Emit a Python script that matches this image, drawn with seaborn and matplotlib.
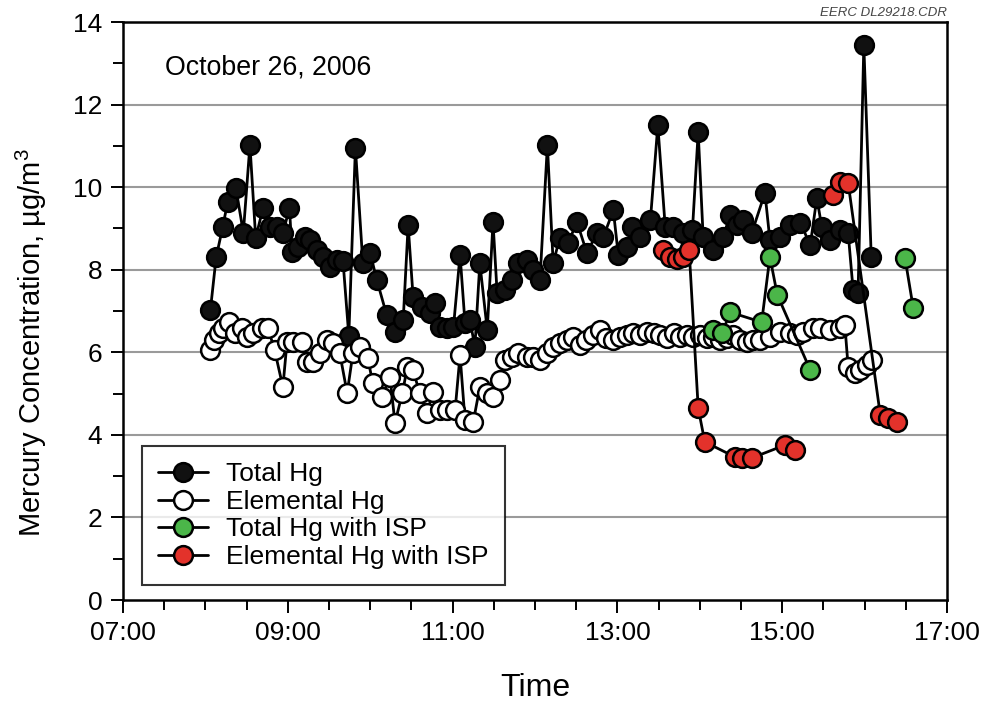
import numpy as np
import pandas as pd
import matplotlib
matplotlib.use('Agg')
import matplotlib.pyplot as plt
from matplotlib.ticker import FuncFormatter, MultipleLocator, FixedLocator
import seaborn as sns

# time in decimal hours, concentrations in ug/m3
total_t = [8.06, 8.13, 8.21, 8.27, 8.37, 8.46, 8.54, 8.61, 8.70, 8.78, 8.87, 8.94, 9.02, 9.05,
           9.12, 9.21, 9.27, 9.35, 9.43, 9.51, 9.60, 9.67, 9.74, 9.82, 9.91, 10.00, 10.08, 10.20,
           10.30, 10.40, 10.46, 10.52, 10.63, 10.73, 10.79, 10.85, 10.93, 11.01, 11.09, 11.15,
           11.21, 11.27, 11.33, 11.42, 11.49, 11.54, 11.64, 11.72, 11.79, 11.90, 11.98, 12.06,
           12.15, 12.22, 12.30, 12.40, 12.51, 12.63, 12.75, 12.83, 12.95, 13.01, 13.12, 13.18,
           13.27, 13.40, 13.49, 13.58, 13.68, 13.80, 13.91, 13.98, 14.04, 14.16, 14.28, 14.37,
           14.45, 14.52, 14.63, 14.79, 14.85, 14.97, 15.10, 15.22, 15.34, 15.42, 15.48, 15.58,
           15.70, 15.80, 15.86, 15.92, 15.99, 16.08]
total_hg = [7.02, 8.30, 9.04, 9.64, 9.97, 8.90, 11.02, 8.77, 9.50, 9.04, 9.04, 8.88, 9.50, 8.43,
            8.55, 8.80, 8.72, 8.48, 8.31, 8.07, 8.23, 8.20, 6.40, 10.95, 8.17, 8.40, 7.75, 6.90,
            6.50, 6.78, 9.08, 7.34, 7.10, 6.95, 7.19, 6.61, 6.59, 6.61, 8.36, 6.71,
            6.78, 6.13, 8.16, 6.54, 9.15, 7.43, 7.51, 7.75, 8.16, 8.23, 7.99, 7.75,
            11.02, 8.16, 8.77, 8.65, 9.15, 8.40, 8.89, 8.80, 9.44, 8.36, 8.55, 9.03,
            8.80, 9.20, 11.50, 9.03, 9.03, 8.89, 8.96, 11.33, 8.80, 8.48, 8.80, 9.32,
            9.08, 9.20, 8.89, 9.86, 8.72, 8.80, 9.08, 9.13, 8.60, 9.74, 9.03, 8.72,
            8.96, 8.89, 7.51, 7.43, 13.44, 8.31]

elem_t = [8.06, 8.10, 8.17, 8.21, 8.29, 8.36, 8.44, 8.50, 8.58, 8.69, 8.76, 8.84, 8.94, 8.99,
          9.06, 9.17, 9.23, 9.31, 9.39, 9.48, 9.55, 9.63, 9.72, 9.79, 9.88, 9.97, 10.03, 10.14,
          10.24, 10.30, 10.39, 10.45, 10.52, 10.60, 10.69, 10.76, 10.85, 10.93, 11.03, 11.09,
          11.15, 11.25, 11.33, 11.42, 11.49, 11.58, 11.64, 11.72, 11.79, 11.90, 11.98, 12.06,
          12.15, 12.22, 12.30, 12.39, 12.46, 12.55, 12.62, 12.70, 12.79, 12.86, 12.95, 13.03,
          13.12, 13.19, 13.27, 13.36, 13.44, 13.52, 13.60, 13.69, 13.76, 13.84, 13.92, 14.00,
          14.09, 14.16, 14.25, 14.33, 14.40, 14.49, 14.57, 14.65, 14.73, 14.85, 14.97, 15.09,
          15.18, 15.25, 15.37, 15.46, 15.58, 15.70, 15.76, 15.80, 15.88, 15.94, 16.03, 16.09]
elem_hg = [6.05, 6.30, 6.47, 6.60, 6.73, 6.47, 6.60, 6.37, 6.47, 6.60, 6.58, 6.05, 5.16, 6.25,
           6.25, 6.25, 5.76, 5.76, 5.98, 6.30, 6.22, 5.98, 5.01, 5.98, 6.13, 5.86, 5.26, 4.92,
           5.40, 4.29, 5.01, 5.64, 5.57, 5.01, 4.53, 5.04, 4.60, 4.60, 4.60, 5.93,
           4.36, 4.31, 5.16, 5.01, 4.92, 5.33, 5.81, 5.88, 5.98, 5.88, 5.88, 5.81,
           5.98, 6.13, 6.22, 6.30, 6.37, 6.18, 6.30, 6.42, 6.54, 6.35, 6.30, 6.37,
           6.42, 6.47, 6.42, 6.49, 6.47, 6.42, 6.35, 6.47, 6.37, 6.42, 6.37, 6.42,
           6.35, 6.37, 6.30, 6.35, 6.42, 6.30, 6.25, 6.30, 6.30, 6.37, 6.49, 6.47,
           6.42, 6.49, 6.60, 6.58, 6.54, 6.58, 6.65, 5.64, 5.50, 5.57, 5.69, 5.81]

isp_total_t = [14.16, 14.27, 14.37, 14.75, 14.85, 14.94, 15.34, 16.49, 16.59]
isp_total_hg = [6.54, 6.47, 6.97, 6.73, 8.31, 7.39, 5.57, 8.28, 7.07]
isp_total_seg = [0, 0, 0, 0, 0, 0, 0, 1, 1]

isp_elem_t = [13.55, 13.64, 13.72, 13.80, 13.87, 13.98, 14.06, 14.43, 14.51, 14.63, 15.03, 15.16,
              15.62, 15.70, 15.80, 16.19, 16.28, 16.39]
isp_elem_hg = [8.48, 8.31, 8.26, 8.31, 8.48, 4.65, 3.83, 3.46, 3.44, 3.44, 3.75, 3.63,
               9.81, 10.12, 10.10, 4.48, 4.41, 4.31]
isp_elem_seg = [0, 0, 0, 0, 0, 0, 0, 0, 0, 0, 0, 0, 1, 1, 1, 1, 1, 1]

labels = ['Total Hg', 'Elemental Hg', 'Total Hg with ISP', 'Elemental Hg with ISP']
fills = ['#111111', 'white', '#4bb649', '#e3322b']

sns.set_style('ticks')
plt.rcParams['font.family'] = ['Liberation Sans', 'DejaVu Sans']
plt.rcParams['mathtext.fontset'] = 'custom'
plt.rcParams['mathtext.rm'] = 'Liberation Sans'
plt.rcParams['text.color'] = 'black'
plt.rcParams['axes.labelcolor'] = 'black'

frames = [
    pd.DataFrame({'time': total_t, 'hg': total_hg, 'seg': 0}),
    pd.DataFrame({'time': elem_t, 'hg': elem_hg, 'seg': 0}),
    pd.DataFrame({'time': isp_total_t, 'hg': isp_total_hg, 'seg': isp_total_seg}),
    pd.DataFrame({'time': isp_elem_t, 'hg': isp_elem_hg, 'seg': isp_elem_seg}),
]

fig = plt.figure(figsize=(9.97, 7.03), dpi=100)
ax = fig.add_axes([0.1234, 0.1465, 0.8265, 0.8222])

# draw elemental first so total Hg sits on top, ISP series on top of both
for i in [1, 0, 2, 3]:
    sns.lineplot(data=frames[i], x='time', y='hg', units='seg', estimator=None, sort=False,
                 ax=ax, color='black', lw=2.0, marker='o', markersize=13.5,
                 markerfacecolor=fills[i], markeredgecolor='black', markeredgewidth=1.8,
                 label=labels[i], zorder=3 + i)

ax.set_xlim(7, 17)
ax.set_ylim(0, 14)
ax.xaxis.set_major_locator(FixedLocator([7, 9, 11, 13, 15, 17]))
ax.xaxis.set_minor_locator(MultipleLocator(0.5))
ax.xaxis.set_major_formatter(FuncFormatter(lambda v, p: f'{int(round(v)):02d}:00'))
ax.yaxis.set_major_locator(MultipleLocator(2))
ax.yaxis.set_minor_locator(MultipleLocator(1))
for y in range(2, 14, 2):
    ax.axhline(y, color='#9a9a9a', lw=1.5, zorder=1)

ax.tick_params(which='both', direction='out', width=1.4, labelsize=19, colors='black')
ax.tick_params(which='major', length=9, pad=6)
ax.tick_params(which='minor', length=7)
for s in ax.spines.values():
    s.set_linewidth(1.8)
    s.set_color('black')

ax.set_xlabel('Time', fontsize=23, labelpad=20)
ax.set_ylabel('Mercury Concentration, \u00b5g/m$^3$', fontsize=21, labelpad=12)
ax.yaxis.set_label_coords(-0.09, 0.446)

ax.text(0.051, 0.922, 'October 26, 2006', transform=ax.transAxes, fontsize=19.3,
        va='center', ha='left')
fig.text(0.95, 0.981, 'EERC DL29218.CDR', fontsize=9.5, style='italic', color='#444444',
         ha='right', va='center')

# legend handles from the lines in label order
handles, lbls = ax.get_legend_handles_labels()
order = [lbls.index(l) for l in labels]
leg = ax.legend([handles[k] for k in order], [lbls[k] for k in order],
                loc='lower left', bbox_to_anchor=(0.023, 0.026), borderaxespad=0,
                fontsize=19, frameon=True, fancybox=False, edgecolor='black',
                handlelength=1.9, handletextpad=0.7, labelspacing=0.14,
                borderpad=0.6, markerscale=1.0)
leg.get_frame().set_linewidth(1.5)
leg.set_zorder(10)

fig.savefig('out.png', dpi=100)
